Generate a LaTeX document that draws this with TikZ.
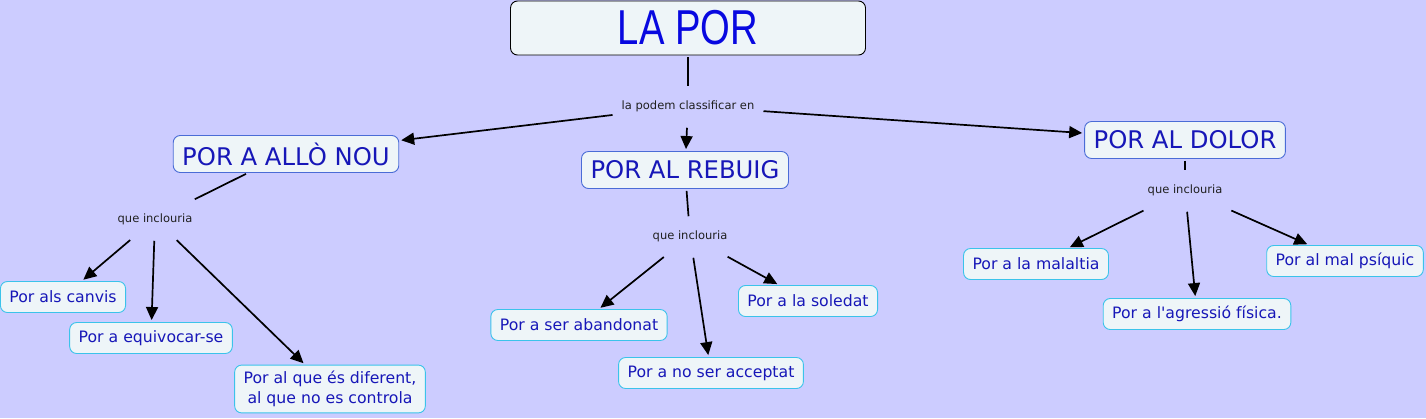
\documentclass[tikz,border=0pt]{standalone}
\usepackage{fontspec}
\setmainfont{DejaVu Sans}
\newfontfamily\titlefont{Liberation Sans}
\usepackage{xcolor}
\usepackage{tikz}
\usetikzlibrary{arrows.meta,positioning}

\definecolor{mapbg}{HTML}{CCCCFF}
\definecolor{nodefill}{HTML}{EEF5F8}
\definecolor{titleblue}{HTML}{0808E0}
\definecolor{conceptblue}{HTML}{1717B8}
\definecolor{subborder}{HTML}{4A6CD6}
\definecolor{leafborder}{HTML}{3BC3EA}
\definecolor{linktext}{HTML}{202020}

\begin{document}
\begin{tikzpicture}[x=1pt, y=-1pt,
        concept/.style={draw, rounded corners=7pt, fill=nodefill, text=conceptblue,
                        inner xsep=9pt, inner ysep=2pt, line width=0.9pt},
        mainbox/.style={concept, draw=black, minimum width=355pt, minimum height=54pt,
                        font=\titlefont\fontsize{49}{50}\selectfont, text=titleblue},
        subbox/.style={concept, draw=subborder, minimum height=37pt,
                       font=\fontsize{24.3}{28}\selectfont},
        leafbox/.style={concept, draw=leafborder, minimum height=31pt,
                        font=\fontsize{15.7}{20}\selectfont, align=center},
        linkphrase/.style={font=\fontsize{11.5}{13}\selectfont, text=linktext,
                           inner xsep=7pt, inner ysep=14pt},
        conn/.style={line width=1.7pt, shorten <=2pt},
        arr/.style={conn, -{Triangle[length=13pt,width=12pt]}, shorten >=2pt},
    ]
        \fill[mapbg] (0,0) rectangle (1426,418);
        \useasboundingbox (0,0) rectangle (1426,418);

        % top of the map
        \node[mainbox]    (lapor)   at (688, 28)  {\scalebox{0.78}[1]{LA POR}};
        \node[linkphrase] (classif) at (688, 106) {la podem classificar en};

        % the three kinds
        \node[subbox] (nou)    at (286, 154)  {POR A ALLÒ NOU};
        \node[subbox] (rebuig) at (685, 170)  {POR AL REBUIG};
        \node[subbox] (dolor)  at (1185, 140) {POR AL DOLOR};

        \node[linkphrase] (inclnou)    at (155, 219)  {que inclouria};
        \node[linkphrase] (inclrebuig) at (690, 236)  {que inclouria};
        \node[linkphrase] (incldolor)  at (1185, 190) {que inclouria};

        % leaves
        \node[leafbox] (canvis)    at (63, 297)   {Por als canvis};
        \node[leafbox] (equivocar) at (151, 338)  {Por a equivocar-se};
        \node[leafbox, inner ysep=6pt] (diferent) at (330, 389) {Por al que és diferent,\\ al que no es controla};
        \node[leafbox] (abandonat) at (579, 325)  {Por a ser abandonat};
        \node[leafbox] (acceptat)  at (711, 373)  {Por a no ser acceptat};
        \node[leafbox] (soledat)   at (808, 301)  {Por a la soledat};
        \node[leafbox] (malaltia)  at (1036, 264) {Por a la malaltia};
        \node[leafbox] (agressio)  at (1197, 314) {Por a l\textquotesingle agressió física.};
        \node[leafbox] (psiquic)   at (1345, 261) {Por al mal psíquic};

        \draw[conn] (lapor) -- (classif);
        \draw[arr]  (classif) -- (nou);
        \draw[arr]  (classif) -- (rebuig);
        \draw[arr]  (classif) -- (dolor);

        \draw[conn] (nou) -- (inclnou);
        \draw[arr]  (inclnou) -- (canvis);
        \draw[arr]  (inclnou) -- (equivocar);
        \draw[arr]  (inclnou) -- (diferent);

        \draw[conn] (rebuig) -- (inclrebuig);
        \draw[arr]  (inclrebuig) -- (abandonat);
        \draw[arr]  (inclrebuig) -- (acceptat);
        \draw[arr]  (inclrebuig) -- (soledat);

        \draw[conn] (dolor) -- (incldolor);
        \draw[arr]  (incldolor) -- (malaltia);
        \draw[arr]  (incldolor) -- (agressio);
        \draw[arr]  (incldolor) -- (psiquic);
    \end{tikzpicture}
\end{document}
